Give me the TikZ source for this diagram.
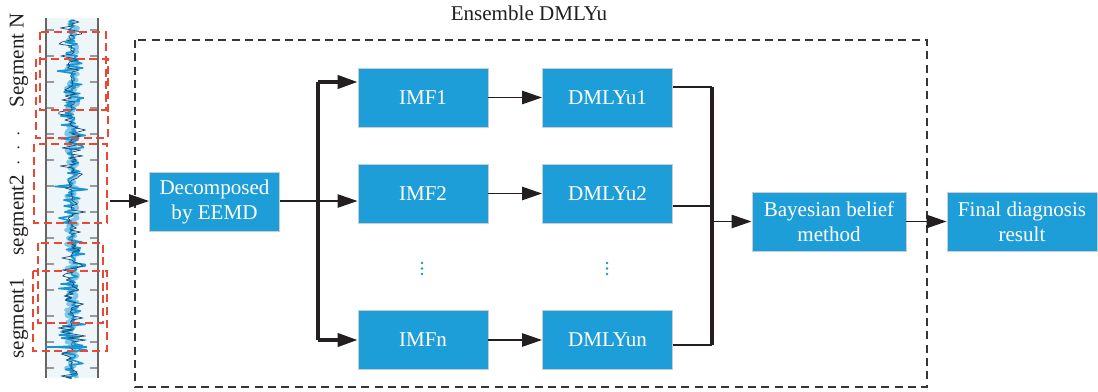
\documentclass[tikz,border=0pt]{standalone}
\usepackage{fontspec}
\setmainfont{Liberation Serif}
\usetikzlibrary{arrows.meta}
\definecolor{boxblue}{RGB}{30,158,216}
\definecolor{boxedge}{RGB}{200,205,210}
\definecolor{ink}{RGB}{35,31,32}
\definecolor{segred}{RGB}{232,72,52}
\definecolor{sigblue}{RGB}{25,150,210}
\definecolor{sigdark}{RGB}{20,70,110}
\definecolor{stripbg}{RGB}{238,246,250}
\tikzset{
  blk/.style={fill=boxblue, draw=boxedge, line width=0.7pt, text=white, inner sep=0pt,
    minimum width=97.5pt, minimum height=44.25pt, align=center,
    font=\fontsize{15.8}{18.75}\selectfont},
  arr/.style={draw=ink, line width=1.3pt, -{Triangle[length=15pt,width=10pt]}},
  ln/.style={draw=ink, line width=1.3pt},
  bus/.style={draw=ink, line width=2.4pt},
  lbl/.style={text=ink, font=\fontsize{15.8}{18}\selectfont},
  seg/.style={draw=segred, dashed, dash pattern=on 6pt off 3.5pt, line width=1.1pt},
}
\begin{document}
\begin{tikzpicture}[x=0.75pt,y=-0.75pt]
\useasboundingbox (0,0) rectangle (1098,392);
% signal strip
\fill[stripbg] (46,18) rectangle (98,378);
\pgfmathsetseed{7}
\foreach \k in {0,...,13} {
  \draw[gray!80, line width=1pt] (46,{30+\k*26}) -- (54,{30+\k*26});
  \draw[gray!80, line width=1pt] (90,{30+\k*26}) -- (98,{30+\k*26});
}
\draw[sigblue!55, line width=3pt, line join=round] (72,20)
  \foreach \i in {1,...,179} { -- ({72+6*rand},{20+\i*2}) };
\draw[sigblue, line width=1.2pt, line join=round] (72,20)
  \foreach \i in {1,...,239} { -- ({72+16*pow(rand,3)+3*rand},{20+\i*1.5}) };
\draw[sigdark, line width=0.5pt, line join=round] (72,20)
  \foreach \i in {1,...,179} { -- ({72+14*pow(rand,3)},{20+\i*2}) };
\draw[gray!80!black, line width=1.4pt] (46,18) -- (46,378);
\draw[gray!80!black, line width=1.4pt] (98,18) -- (98,378);
\draw[sigblue, line width=1pt] (45,347) -- (87,347);
% red segment boxes
\draw[seg] (40,32) rectangle (106,110);
\draw[seg] (36,59) rectangle (108,138);
\draw[seg] (34,144) rectangle (107,223);
\draw[seg] (38,243) rectangle (103,323);
\draw[seg] (33,271) rectangle (107,351);
% rotated labels
\node[lbl, rotate=90] (lN) at (19,60) {Segment N};
\node[lbl, rotate=90] (ld) at (19,148) {$\cdot$\hspace{7pt}$\cdot$\hspace{7pt}$\cdot$};
\node[lbl, rotate=90] (l2) at (19,215) {segment2};
\node[lbl, rotate=90] (l1) at (19,318) {segment1};
% ensemble frame
\draw[ink!90, dashed, dash pattern=on 6pt off 4pt, line width=1pt] (135,40) rectangle (927,387);
\node[lbl] (ens) at (529,13) {Ensemble DMLYu};
% blocks
\node[blk] (dec) at (214.5,201.5) {Decomposed\\by EEMD};
\node[blk] (imf1) at (423,97.5) {IMF1};
\node[blk] (imf2) at (423,193.5) {IMF2};
\node[blk] (imfn) at (423,340) {IMFn};
\node[blk] (d1) at (607.5,97.5) {DMLYu1};
\node[blk] (d2) at (607.5,193.5) {DMLYu2};
\node[blk] (dn) at (607.5,340) {DMLYun};
\node[blk, minimum width=115.5pt] (bay) at (829,221.5) {Bayesian belief\\method};
\node[blk, minimum width=112.5pt] (fin) at (1022,221.5) {Final diagnosis\\result};
% dots
\foreach \xx/\nm in {422/a,607/b} {
  \fill[sigblue] (\xx,263) circle (1.3);
  \fill[sigblue] (\xx,268.5) circle (1.3);
  \fill[sigblue] (\xx,274) circle (1.3);
}
% connectors
\coordinate (s) at (110,201);
\draw[arr] (s) -- (dec.west |- s);
\coordinate (t1) at (318,82);
\coordinate (t2) at (318,340);
\draw[bus] (t1) -- (t2);
\draw[arr, line width=2.4pt] (t1) -- (imf1.west |- t1);
\draw[arr, line width=2.4pt] (t2) -- (imfn.west |- t2);
\draw[arr] (dec.east |- s) -- (imf2.west |- s);
\draw[arr] (imf1) -- (d1);
\draw[arr] (imf2) -- (d2);
\draw[arr] (imfn) -- (dn);
\coordinate (r1) at (712,87);
\coordinate (r2) at (712,206);
\coordinate (r3) at (712,345);
\coordinate (rb) at (712,221.5);
\draw[ln] (d1.east |- r1) -- (r1);
\draw[ln] (d2.east |- r2) -- (r2);
\draw[ln] (dn.east |- r3) -- (r3);
\draw[bus] (r1) -- (r3);
\draw[arr] (rb) -- (bay.west);
\draw[arr] (bay) -- (fin);
\end{tikzpicture}
\end{document}
